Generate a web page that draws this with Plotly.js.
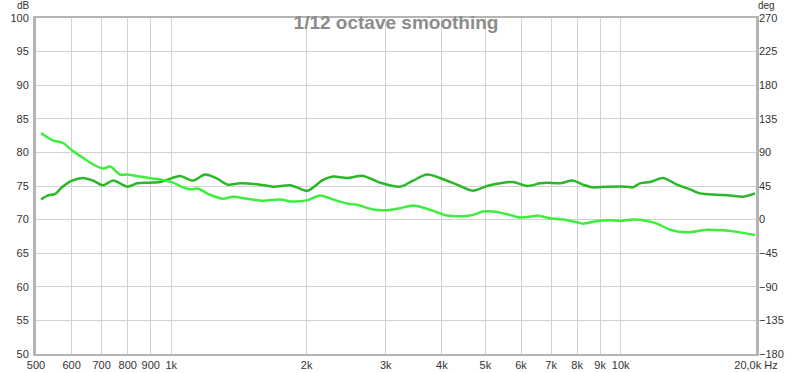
<!DOCTYPE html>
<html><head><meta charset="utf-8">
<script src="https://cdn.plot.ly/plotly-3.0.1.min.js"></script>
<style>body{margin:0;background:#fff}#c{width:800px;height:373px}</style>
</head><body><div id="c"></div>
<script>
const freqBright = [513,545,574,604,636,670,705,731,769,799,852,910,958,1009,1062,1101,1147,1219,1303,1372,1474,1600,1746,1837,1904,2010,2143,2290,2460,2590,2811,3020,3228,3451,3632,3902,4107,4458,4692,4939,5199,5585,5970,6381,6513,6961,7442,7995,8244,8860,9470,9965,10652,11443,12045,12875,14047,15565,16894,18432,19905];
const splBright = [82.9,81.8,81.4,80.2,79.2,78.2,77.6,77.9,76.7,76.7,76.4,76.1,75.9,75.5,74.8,74.5,74.6,73.7,73.1,73.4,73.1,72.8,73.0,72.7,72.7,72.9,73.6,73.0,72.4,72.2,71.5,71.4,71.7,72.1,71.8,71.1,70.6,70.5,70.7,71.2,71.2,70.8,70.3,70.5,70.6,70.2,70.0,69.6,69.4,69.8,69.9,69.8,70.0,69.8,69.4,68.5,68.1,68.5,68.4,68.1,67.7];
const freqDark = [513,532,551,571,601,636,670,705,742,799,839,897,944,978,1046,1118,1189,1264,1337,1422,1576,1684,1837,1904,2010,2176,2290,2460,2671,2914,3228,3451,3707,3963,4390,4692,5041,5389,5759,6188,6614,6856,7328,7833,8244,8636,9325,10330,10652,11040,11622,12421,13345,14267,15017,16384,17512,18718,19905];
const splDark = [73.0,73.6,73.8,74.8,75.8,76.2,75.8,75.1,75.8,74.9,75.4,75.5,75.6,75.9,76.5,75.8,76.7,76.1,75.2,75.4,75.2,74.9,75.1,74.8,74.3,75.9,76.4,76.2,76.5,75.5,74.9,75.8,76.7,76.2,75.0,74.3,75.0,75.4,75.6,75.0,75.4,75.5,75.4,75.8,75.2,74.8,74.9,74.9,74.8,75.4,75.6,76.2,75.2,74.5,73.9,73.7,73.6,73.4,73.9];
const xTickVals = [500,600,700,800,900,1000,2000,3000,4000,5000,6000,7000,8000,9000,10000,20000];
const xTickText = ['500','600','700','800','900','1k','2k','3k','4k','5k','6k','7k','8k','9k','10k','20,0k Hz'];
const dbTicks = [50,55,60,65,70,75,80,85,90,95,100];
const degTicks = [-180,-135,-90,-45,0,45,90,135,180,225,270];

const data = [
  {x: freqDark, y: splDark, type:'scatter', mode:'lines', line:{color:'#28b828', width:2.5, shape:'spline', smoothing:0.8}, hoverinfo:'skip'},
  {x: freqBright, y: splBright, type:'scatter', mode:'lines', line:{color:'#3cef3c', width:2.5, shape:'spline', smoothing:0.8}, hoverinfo:'skip'},
  {x: [], y: [], yaxis:'y2', type:'scatter', mode:'lines', showlegend:false}
];
const tickFont = {family:'Liberation Sans, Arial, sans-serif', size:11, color:'#333'};
const unitFont = {family:'Liberation Sans, Arial, sans-serif', size:10, color:'#333'};
const layout = {
  width:800, height:373,
  margin:{l:36, r:44, t:18, b:19},
  paper_bgcolor:'#fff', plot_bgcolor:'#fff',
  showlegend:false,
  title:{text:'<b>1/12 octave smoothing</b>', font:{family:'Liberation Sans, Arial, sans-serif', size:19, color:'#8c8c8c'}, x:0.5, xanchor:'center', xref:'paper', y:0.94, yref:'container', yanchor:'middle'},
  xaxis:{type:'log', range:[Math.log10(500), Math.log10(20000)], tickvals:xTickVals, ticktext:xTickText, tickfont:tickFont, showgrid:true, gridcolor:'#d2d2d2', gridwidth:1, zeroline:false, showline:true, linecolor:'#b4b4b4', linewidth:2, mirror:true, ticks:'', ticklabelstandoff:0},
  yaxis:{range:[50,100], tickvals:dbTicks, tickfont:tickFont, showgrid:true, gridcolor:'#d2d2d2', gridwidth:1, zeroline:false, showline:true, linecolor:'#b4b4b4', linewidth:3, mirror:true, ticks:'', ticklabelstandoff:2},
  yaxis2:{overlaying:'y', side:'right', range:[-180,270], tickvals:degTicks, tickfont:tickFont, showgrid:false, zeroline:false, showline:false, ticks:'', ticklabelstandoff:2},
  annotations:[
    {text:'dB', xref:'paper', yref:'paper', x:0, y:1, xanchor:'right', yanchor:'middle', xshift:-5, yshift:13, showarrow:false, font:unitFont, borderpad:0},
    {text:'deg', xref:'paper', yref:'paper', x:1, y:1, xanchor:'left', yanchor:'middle', xshift:1, yshift:13, showarrow:false, font:unitFont, borderpad:0}
  ]
};
Plotly.newPlot('c', data, layout, {staticPlot:true, displayModeBar:false});
</script></body></html>
